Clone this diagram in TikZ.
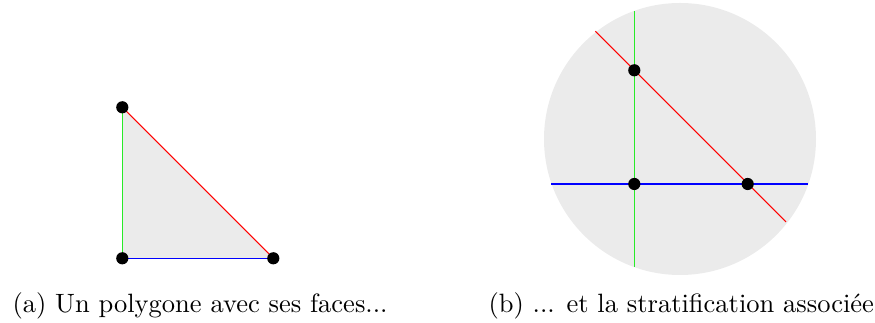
\documentclass[tikz,border=0pt]{standalone}
\definecolor{facegray}{RGB}{235,235,235}
\definecolor{vgreen}{RGB}{40,235,40}
\begin{document}
\begin{tikzpicture}[x=0.3774pt,y=-0.3774pt,
  dot/.style={circle,fill=black,inner sep=0pt,minimum size=4.6pt},
  edge/.style={line width=0.4pt},
  caption/.style={inner sep=0pt,anchor=base west,font=\normalsize}]
\useasboundingbox (0,0) rectangle (875,323);
% (a) polygon
\coordinate (A) at (122.3,107.3);
\coordinate (B) at (122.3,258.3);
\coordinate (C) at (273.3,258.3);
\fill[facegray] (A) -- (B) -- (C) -- cycle;
\draw[edge,vgreen] (A) -- (B);
\draw[edge,blue] (B) -- (C);
\draw[edge,red] (A) -- (C);
\node[dot] (dA) at (A) {};
\node[dot] (dB) at (B) {};
\node[dot] (dC) at (C) {};
% (b) stratification
\fill[facegray] (680,139) circle[radius=136];
\coordinate (g1) at (634.3,11);
\coordinate (g2) at (634.3,267);
\coordinate (b1) at (551,184);
\coordinate (b2) at (807.7,184);
\coordinate (r1) at (595.3,31.3);
\coordinate (r2) at (786,222);
\draw[edge,vgreen] (g1) -- (g2);
\draw[edge,blue] (b1) -- (b2);
\draw[edge,red] (r1) -- (r2);
\node[dot] (P1) at (634.3,70.3) {};
\node[dot] (P2) at (634.3,184) {};
\node[dot] (P3) at (747.7,184) {};
% captions
\node[caption] (capa) at (12,312.5) {(a) Un polygone avec ses faces...};
\node[caption] (capb) at (488,312.5) {(b) ... et la stratification associée};
\end{tikzpicture}
\end{document}
